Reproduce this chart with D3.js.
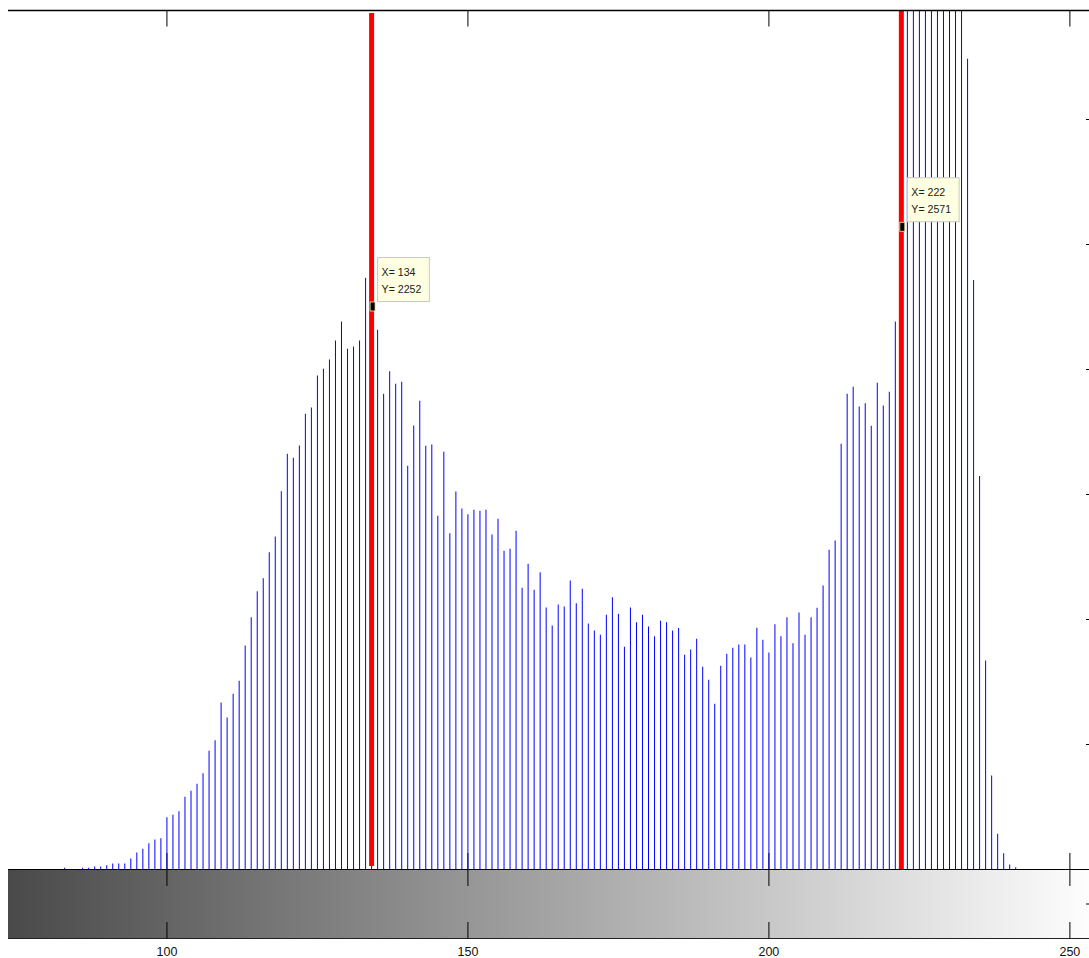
<!DOCTYPE html>
<html>
<head>
<meta charset="utf-8">
<script src="https://d3js.org/d3.v7.min.js"></script>
<style>
  body { margin: 0; background: #fff; }
  svg { display: block; }
  text { font-family: "Liberation Sans", Arial, sans-serif; }
</style>
</head>
<body>
<div id="chart"></div>
<script>
// histogram of gray levels, first bin is level 83
var firstLevel = 83;
var counts = [
    7, 0, 0, 7, 7, 12, 12, 17, 24, 24,
    24, 44, 68, 83, 105, 120, 125, 209, 219, 233,
    291, 315, 343, 385, 475, 517, 668, 608, 703, 755,
    896, 1009, 1113, 1165, 1269, 1332, 1513, 1663, 1647, 1696,
    1823, 1848, 1976, 2003, 2040, 2116, 2192, 2083, 2092, 2116,
    2367, 2252, 2159, 1903, 1993, 1943, 1951, 1615, 1776, 1875,
    1695, 1700, 1415, 1671, 1345, 1512, 1444, 1421, 1439, 1435,
    1439, 1340, 1403, 1275, 1283, 1355, 1127, 1223, 1119, 1189,
    1048, 976, 1060, 1052, 1156, 1065, 1123, 984, 956, 939,
    1019, 1089, 1023, 891, 1048, 989, 1019, 972, 933, 995,
    989, 956, 966, 859, 880, 923, 811, 759, 663, 815,
    863, 887, 900, 900, 848, 967, 919, 868, 981, 933,
    1009, 905, 1028, 939, 1009, 1047, 1136, 1279, 1316, 1703,
    1903, 1931, 1852, 1865, 1775, 1947, 1856, 1911, 2192, 2571,
    3560, 3890, 4120, 4350, 4480, 4610, 4520, 4290, 3980, 3700,
    3243, 2358, 1574, 836, 376, 143, 65, 20, 9
];

var xTicks = [100, 150, 200, 250];
var yTicks = [500, 1000, 1500, 2000, 2500, 3000];

// red threshold lines
var cursorX = [134, 222];
var cursorFrom = [14, -5];
var cursorTo = [3426, 3440];

// data tips
var tipX = [134, 222];
var tipY = [2252, 2571];

// gray colormap under the axis
var grayLevels = d3.range(0, 256);

function plotHist(containerId) {
    var WIDTH = 1089;
    var HEIGHT = 958;
    var AX = {left: 8, right: 1100, top: 10, bottom: 869.5};
    var CB = {top: 869.5, bottom: 938.5};
    var TICK = 16.5;

    var svg = d3.select('#' + containerId).append("svg")
        .attr("width", WIDTH)
        .attr("height", HEIGHT);

    svg.append("rect")
        .attr("width", WIDTH).attr("height", HEIGHT)
        .attr("fill", "#fff");

    var xScale = d3.scaleLinear().domain([73.6, 255]).range([AX.left, AX.right]);
    var yScale = d3.scaleLinear().domain([0, 3438]).range([AX.bottom, AX.top]);

    svg.append("clipPath").attr("id", "plotclip")
        .append("rect")
        .attr("x", AX.left).attr("y", AX.top)
        .attr("width", AX.right - AX.left).attr("height", AX.bottom - AX.top);

    svg.append("clipPath").attr("id", "cbclip")
        .append("rect")
        .attr("x", AX.left).attr("y", CB.top)
        .attr("width", AX.right - AX.left).attr("height", CB.bottom - CB.top);

    // colorbar
    svg.append("g")
        .attr("clip-path", "url(#cbclip)")
        .attr("shape-rendering", "crispEdges")
        .selectAll("rect")
        .data(grayLevels)
        .enter().append("rect")
        .attr("x", function(d) { return Math.round(xScale(d - 0.5)); })
        .attr("width", function(d) { return Math.round(xScale(d + 0.5)) - Math.round(xScale(d - 0.5)); })
        .attr("y", CB.top)
        .attr("height", CB.bottom - CB.top)
        .attr("fill", function(d) { return d3.rgb(d, d, d); });

    // inward ticks on the histogram's bottom edge
    svg.append("g").selectAll("line")
        .data(xTicks)
        .enter().append("line")
        .attr("x1", function(d) { return xScale(d); })
        .attr("x2", function(d) { return xScale(d); })
        .attr("y1", AX.bottom)
        .attr("y2", AX.bottom - TICK)
        .style("stroke", "#000");

    var bins = counts.map(function(c, i) { return {x: firstLevel + i, y: c}; })
                     .filter(function(d) { return d.y > 0; });

    var plot = svg.append("g").attr("clip-path", "url(#plotclip)");

    plot.append("g")
        .selectAll("line")
        .data(bins)
        .enter().append("line")
        .attr("x1", function(d) { return xScale(d.x); })
        .attr("x2", function(d) { return xScale(d.x); })
        .attr("y1", yScale(0))
        .attr("y2", function(d) { return yScale(d.y); })
        .style("stroke", "#0000ff")
        .style("stroke-width", 1);

    plot.append("g")
        .selectAll("line")
        .data(cursorX)
        .enter().append("line")
        .attr("x1", function(d) { return xScale(d); })
        .attr("x2", function(d) { return xScale(d); })
        .attr("y1", function(d, i) { return yScale(cursorFrom[i]); })
        .attr("y2", function(d, i) { return yScale(cursorTo[i]); })
        .style("stroke", "#ff0000")
        .style("stroke-width", 5);

    // axes frame
    svg.append("line")
        .attr("x1", AX.left).attr("x2", AX.right)
        .attr("y1", AX.top + 0.5).attr("y2", AX.top + 0.5)
        .style("stroke", "#000")
        .style("stroke-width", 1.5);
    svg.append("line")
        .attr("x1", AX.left).attr("x2", AX.right)
        .attr("y1", AX.bottom).attr("y2", AX.bottom)
        .style("stroke", "#000");
    svg.append("line")
        .attr("x1", AX.left).attr("x2", AX.right)
        .attr("y1", CB.bottom).attr("y2", CB.bottom)
        .style("stroke", "#222");

    // top ticks
    svg.append("g").selectAll("line")
        .data(xTicks)
        .enter().append("line")
        .attr("x1", function(d) { return xScale(d); })
        .attr("x2", function(d) { return xScale(d); })
        .attr("y1", AX.top)
        .attr("y2", AX.top + TICK)
        .style("stroke", "#000");

    // right y ticks
    svg.append("g").selectAll("line")
        .data(yTicks)
        .enter().append("line")
        .attr("x1", AX.right - 14)
        .attr("x2", AX.right)
        .attr("y1", function(d) { return yScale(d); })
        .attr("y2", function(d) { return yScale(d); })
        .style("stroke", "#000");

    // colorbar ticks
    svg.append("g").selectAll("line")
        .data(xTicks)
        .enter().append("line")
        .attr("x1", function(d) { return xScale(d); })
        .attr("x2", function(d) { return xScale(d); })
        .attr("y1", CB.top)
        .attr("y2", CB.top + TICK)
        .style("stroke", "#000");
    svg.append("g").selectAll("line")
        .data(xTicks)
        .enter().append("line")
        .attr("x1", function(d) { return xScale(d); })
        .attr("x2", function(d) { return xScale(d); })
        .attr("y1", CB.bottom)
        .attr("y2", CB.bottom - TICK)
        .style("stroke", "#000");
    svg.append("line")
        .attr("x1", AX.right - 14).attr("x2", AX.right)
        .attr("y1", (CB.top + CB.bottom) / 2).attr("y2", (CB.top + CB.bottom) / 2)
        .style("stroke", "#000");

    svg.append("g").selectAll("text")
        .data(xTicks)
        .enter().append("text")
        .attr("x", function(d) { return xScale(d); })
        .attr("y", 956)
        .attr("text-anchor", "middle")
        .style("font-size", "12.5px")
        .style("fill", "#111")
        .text(function(d) { return d; });

    // data tips
    var tips = svg.append("g").selectAll("g")
        .data(tipX)
        .enter().append("g")
        .attr("transform", function(d, i) {
            return "translate(" + xScale(d) + "," + yScale(tipY[i]) + ")";
        });

    var box = tips.append("rect")
        .attr("x", 6)
        .attr("y", -49)
        .attr("height", 44)
        .style("fill", "#ffffe1")
        .style("stroke", "#c8c8c8");

    tips.append("text")
        .attr("x", 10).attr("y", -30.5)
        .style("font-size", "10.6px")
        .style("fill", "#222")
        .text(function(d) { return "X= " + d; });
    tips.append("text")
        .attr("x", 10).attr("y", -14)
        .style("font-size", "10.6px")
        .style("fill", "#222")
        .text(function(d, i) { return "Y= " + tipY[i]; });

    box.attr("width", function() {
        var w = d3.max(d3.select(this.parentNode).selectAll("text").nodes(),
                       function(n) { return n.getComputedTextLength(); });
        return w + 12;
    });

    tips.append("rect")
        .attr("x", -1.5).attr("y", -4.5)
        .attr("width", 5).attr("height", 9)
        .style("fill", "#000")
        .style("stroke", "#fff0a0")
        .style("stroke-width", 0.8);
}

plotHist("chart");
</script>
</body>
</html>
